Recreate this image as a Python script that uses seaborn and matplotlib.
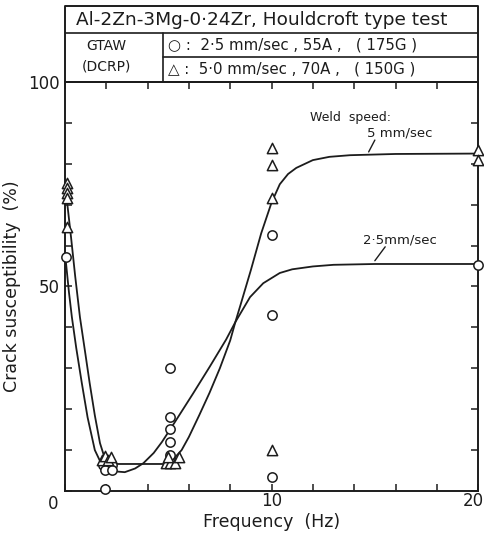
import numpy as np
import pandas as pd
import seaborn as sns
import matplotlib.pyplot as plt
from matplotlib.transforms import ScaledTranslation

# measured points, 2.5 mm/sec (circles)
freq_circ = [0.05, 1.85, 2.3, 1.95, 2.3, 1.95, 5.1, 5.1, 5.1, 5.1, 5.1, 10, 10, 10, 20]
crack_circ = [57.2, 6.4, 6.4, 5.1, 5.1, 0.5, 30, 18, 15.1, 12, 8.8, 62.6, 43.0, 3.4, 55.3]

# measured points, 5.0 mm/sec (triangles)
freq_tri = [0.1, 0.1, 0.1, 0.1, 0.1, 1.8, 1.95, 2.1, 2.25, 4.9, 5.1, 5.35, 5.0, 5.5, 10, 10, 10, 10, 20, 20]
crack_tri = [75.3, 74.1, 72.9, 71.6, 64.5, 7.6, 8.6, 7.6, 8.2, 6.8, 6.8, 6.8, 8.3, 8.3, 83.9, 79.7, 71.6, 10.0, 83.4, 81.0]

# hand-drawn trend curves
curve5_f = [0.1, 0.3, 0.5, 0.73, 1.0, 1.2, 1.45, 1.7, 1.9, 2.1, 2.3, 2.6, 4.8, 5.2, 5.65, 6.0, 6.5, 7.0, 7.5,
            8.0, 8.25, 8.5, 9.0, 9.5, 10.0, 10.4, 10.8, 11.2, 12.0, 12.8, 13.8, 16.0, 20.0]
curve5_c = [71, 62, 52.5, 42.5, 33.3, 26.4, 18.5, 11.7, 8.5, 7.2, 6.7, 6.6, 6.6, 7.5, 10, 13.2, 18.5, 24, 30,
            36.8, 41.3, 45.5, 54, 63, 70.5, 75, 77.5, 79, 80.9, 81.7, 82.1, 82.4, 82.5]

curve25_f = [0.05, 0.2, 0.34, 0.55, 0.82, 1.1, 1.45, 1.75, 2.03, 2.4, 2.9, 3.4, 3.8, 4.3, 4.7, 5.33, 6.2, 7.0,
             7.8, 8.25, 8.96, 9.6, 10.4, 11.0, 12.0, 13.0, 15.0, 20.0]
curve25_c = [56, 48.5, 42.5, 35, 26.4, 18, 10, 6.8, 5.4, 4.8, 4.6, 5.5, 6.8, 9.3, 12, 16.9, 23.8, 30.3,
             37, 41.3, 47.4, 50.8, 53.3, 54.2, 54.9, 55.3, 55.5, 55.5]

sns.set_style('ticks')
plt.rcParams['font.family'] = ['DejaVu Sans']

fig = plt.figure(figsize=(4.84, 5.38), dpi=100)
ax = fig.add_axes([0.134, 0.0874, 0.854, 0.7602])
ink = '#1c1c1c'

sns.lineplot(x=curve5_f, y=curve5_c, ax=ax, color=ink, lw=1.3, estimator=None, sort=False)
sns.lineplot(x=curve25_f, y=curve25_c, ax=ax, color=ink, lw=1.3, estimator=None, sort=False)
sns.scatterplot(x=freq_circ, y=crack_circ, ax=ax, marker='o', s=45, facecolors='white',
                edgecolors=ink, linewidth=1.1, clip_on=False, zorder=3)
sns.scatterplot(x=freq_tri, y=crack_tri, ax=ax, marker='^', s=55, facecolors='white',
                edgecolors=ink, linewidth=1.1, clip_on=False, zorder=3)

ax.set_xlim(0, 20)
ax.set_ylim(0, 100)
ax.set_xticks(np.arange(0, 21, 2))
ax.set_xticklabels(['' if v not in (10, 20) else str(v) for v in range(0, 21, 2)])
ax.set_yticks(np.arange(0, 101, 10))
ax.set_yticklabels(['' if v not in (50, 100) else str(v) for v in range(0, 101, 10)])
ax.tick_params(direction='in', length=5, width=1.1, top=True, right=True, labelsize=12,
               colors=ink, pad=4)
ax.tick_params(axis='x', pad=1)
last = ax.get_xticklabels()[-1]
last.set_horizontalalignment('right')
last.set_transform(last.get_transform() + ScaledTranslation(6 / 100, 0, fig.dpi_scale_trans))
for s in ax.spines.values():
    s.set_visible(True)
    s.set_linewidth(1.4)
    s.set_color(ink)
ax.text(-0.029, -0.032, '0', transform=ax.transAxes, ha='center', va='center', fontsize=12, color=ink)
ax.set_xlabel('Frequency  (Hz)', fontsize=12.5, color=ink, labelpad=2)
ax.set_ylabel('Crack susceptibility  (%)', fontsize=12.5, color=ink, labelpad=5)

# curve labels
ax.text(13.8, 91.2, 'Weld  speed:', fontsize=9, ha='center', va='center', color=ink)
ax.text(16.2, 87.5, '5 mm/sec', fontsize=9.5, ha='center', va='center', color=ink)
ax.plot([15.0, 14.7], [85.8, 82.9], color=ink, lw=1)
ax.text(16.2, 61.4, '2·5mm/sec', fontsize=9.5, ha='center', va='center', color=ink)
ax.plot([15.5, 15.0], [59.7, 56.3], color=ink, lw=1)

# header box
hx = fig.add_axes([0.134, 0.8476, 0.854, 0.1412])
hx.set_xlim(0, 1)
hx.set_ylim(0, 1)
hx.axis('off')
hx.plot([0, 1, 1, 0, 0], [0, 0, 1, 1, 0], color=ink, lw=1.4, clip_on=False)
hx.plot([0, 1], [0.645, 0.645], color=ink, lw=1.2)
hx.plot([0.237, 1], [0.329, 0.329], color=ink, lw=1.2)
hx.plot([0.237, 0.237], [0, 0.645], color=ink, lw=1.2)
hx.text(0.028, 0.82, 'Al-2Zn-3Mg-0·24Zr, Houldcroft type test', fontsize=13.3, ha='left', va='center', color=ink)
hx.text(0.10, 0.47, 'GTAW', fontsize=10, ha='center', va='center', color=ink)
hx.text(0.10, 0.20, '(DCRP)', fontsize=10, ha='center', va='center', color=ink)
hx.text(0.25, 0.49, '○ :  2·5 mm/sec , 55A ,   ( 175G )', fontsize=10.8, ha='left', va='center', color=ink)
hx.text(0.25, 0.165, '△ :  5·0 mm/sec , 70A ,   ( 150G )', fontsize=10.8, ha='left', va='center', color=ink)

fig.savefig('out.png', dpi=100, facecolor='white')
